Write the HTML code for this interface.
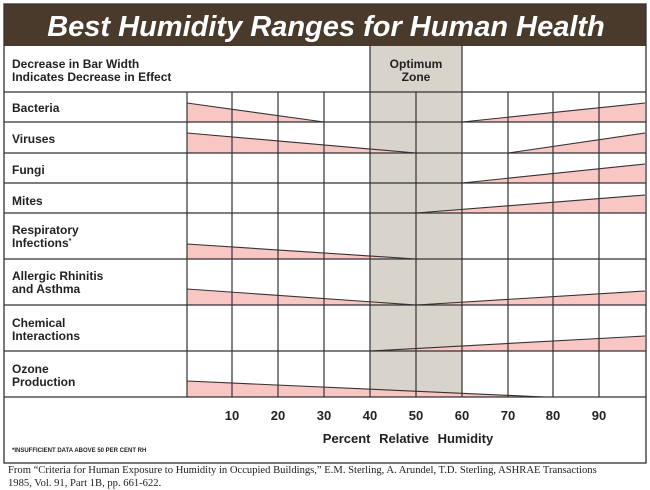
<!DOCTYPE html>
<html><head><meta charset="utf-8"><style>
body{margin:0;background:#fff;}
svg{display:block;}
.l{font-family:"Liberation Sans",Arial,sans-serif;font-weight:bold;font-size:12px;fill:#222;}
</style></head><body>
<svg width="650" height="490" viewBox="0 0 650 490" xmlns="http://www.w3.org/2000/svg">
<rect x="0" y="0" width="650" height="490" fill="#fff"/>
<rect x="4" y="4" width="642" height="42" fill="#4a3a2c"/>
<text x="326" y="36" text-anchor="middle" font-family="Liberation Sans,Arial,sans-serif" font-weight="bold" font-style="italic" font-size="29" fill="#fff">Best Humidity Ranges for Human Health</text>
<rect x="370" y="46" width="92" height="351" fill="#d9d4cb"/>
<g fill="#f8c6c3">
<polygon points="187,103 324,122 187,122"/>
<polygon points="462,122 645,103 645,122"/>
<polygon points="187,133 416,153 187,153"/>
<polygon points="508,153 645,133 645,153"/>
<polygon points="462,183 645,164 645,183"/>
<polygon points="416,213 645,195 645,213"/>
<polygon points="187,244 416,259 187,259"/>
<polygon points="187,289 416,305 187,305"/>
<polygon points="416,305 645,291 645,305"/>
<polygon points="370,351 645,336 645,351"/>
<polygon points="187,381 545,397 187,397"/>
</g>
<g stroke="#333" stroke-width="1.1" fill="none">
<line x1="187" y1="103" x2="324" y2="122"/>
<line x1="462" y1="122" x2="645" y2="103"/>
<line x1="187" y1="133" x2="416" y2="153"/>
<line x1="508" y1="153" x2="645" y2="133"/>
<line x1="462" y1="183" x2="645" y2="164"/>
<line x1="416" y1="213" x2="645" y2="195"/>
<line x1="187" y1="244" x2="416" y2="259"/>
<line x1="187" y1="289" x2="416" y2="305"/>
<line x1="416" y1="305" x2="645" y2="291"/>
<line x1="370" y1="351" x2="645" y2="336"/>
<line x1="187" y1="381" x2="545" y2="397"/>
</g>
<g stroke="#333" stroke-width="1.2">
<line x1="4" y1="92" x2="646" y2="92"/>
<line x1="4" y1="122" x2="646" y2="122"/>
<line x1="4" y1="153" x2="646" y2="153"/>
<line x1="4" y1="183" x2="646" y2="183"/>
<line x1="4" y1="213" x2="646" y2="213"/>
<line x1="4" y1="259" x2="646" y2="259"/>
<line x1="4" y1="305" x2="646" y2="305"/>
<line x1="4" y1="351" x2="646" y2="351"/>
<line x1="4" y1="397" x2="646" y2="397"/>
<line x1="187" y1="92" x2="187" y2="397"/>
<line x1="232" y1="92" x2="232" y2="397"/>
<line x1="278" y1="92" x2="278" y2="397"/>
<line x1="324" y1="92" x2="324" y2="397"/>
<line x1="370" y1="46" x2="370" y2="397"/>
<line x1="416" y1="92" x2="416" y2="397"/>
<line x1="462" y1="46" x2="462" y2="397"/>
<line x1="508" y1="92" x2="508" y2="397"/>
<line x1="553" y1="92" x2="553" y2="397"/>
<line x1="599" y1="92" x2="599" y2="397"/>
</g>
<rect x="4" y="4" width="642" height="459" fill="none" stroke="#333" stroke-width="1.3"/>
<text class="l" x="12" y="68">Decrease in Bar Width</text>
<text class="l" x="12" y="81">Indicates Decrease in Effect</text>
<text class="l" x="416" y="68" text-anchor="middle">Optimum</text>
<text class="l" x="416" y="81" text-anchor="middle">Zone</text>
<text class="l" x="12" y="112">Bacteria</text>
<text class="l" x="12" y="143">Viruses</text>
<text class="l" x="12" y="174">Fungi</text>
<text class="l" x="12" y="205">Mites</text>
<text class="l" x="12" y="234">Respiratory</text>
<text class="l" x="12" y="247">Infections<tspan font-size="7" dy="-4">*</tspan></text>
<text class="l" x="12" y="280">Allergic Rhinitis</text>
<text class="l" x="12" y="293">and Asthma</text>
<text class="l" x="12" y="327">Chemical</text>
<text class="l" x="12" y="340">Interactions</text>
<text class="l" x="12" y="373">Ozone</text>
<text class="l" x="12" y="386">Production</text>
<g class="l" text-anchor="middle" font-size="13">
<text x="232" y="420" font-size="13">10</text><text x="278" y="420" font-size="13">20</text><text x="324" y="420" font-size="13">30</text>
<text x="370" y="420" font-size="13">40</text><text x="416" y="420" font-size="13">50</text><text x="462" y="420" font-size="13">60</text>
<text x="508" y="420" font-size="13">70</text><text x="553" y="420" font-size="13">80</text><text x="599" y="420" font-size="13">90</text>
<text x="408" y="443" font-size="13" word-spacing="5">Percent Relative Humidity</text>
</g>
<text x="12" y="452" font-family="Liberation Sans,Arial,sans-serif" font-weight="bold" font-size="6" fill="#222">*INSUFFICIENT DATA ABOVE 50 PER CENT RH</text>
<text x="8" y="473" font-family="Liberation Serif,serif" font-size="10.6" fill="#222">From “Criteria for Human Exposure to Humidity in Occupied Buildings,” E.M. Sterling, A. Arundel, T.D. Sterling, ASHRAE Transactions</text>
<text x="8" y="486" font-family="Liberation Serif,serif" font-size="10.6" fill="#222">1985, Vol. 91, Part 1B, pp. 661-622.</text>
</svg>
</body></html>
